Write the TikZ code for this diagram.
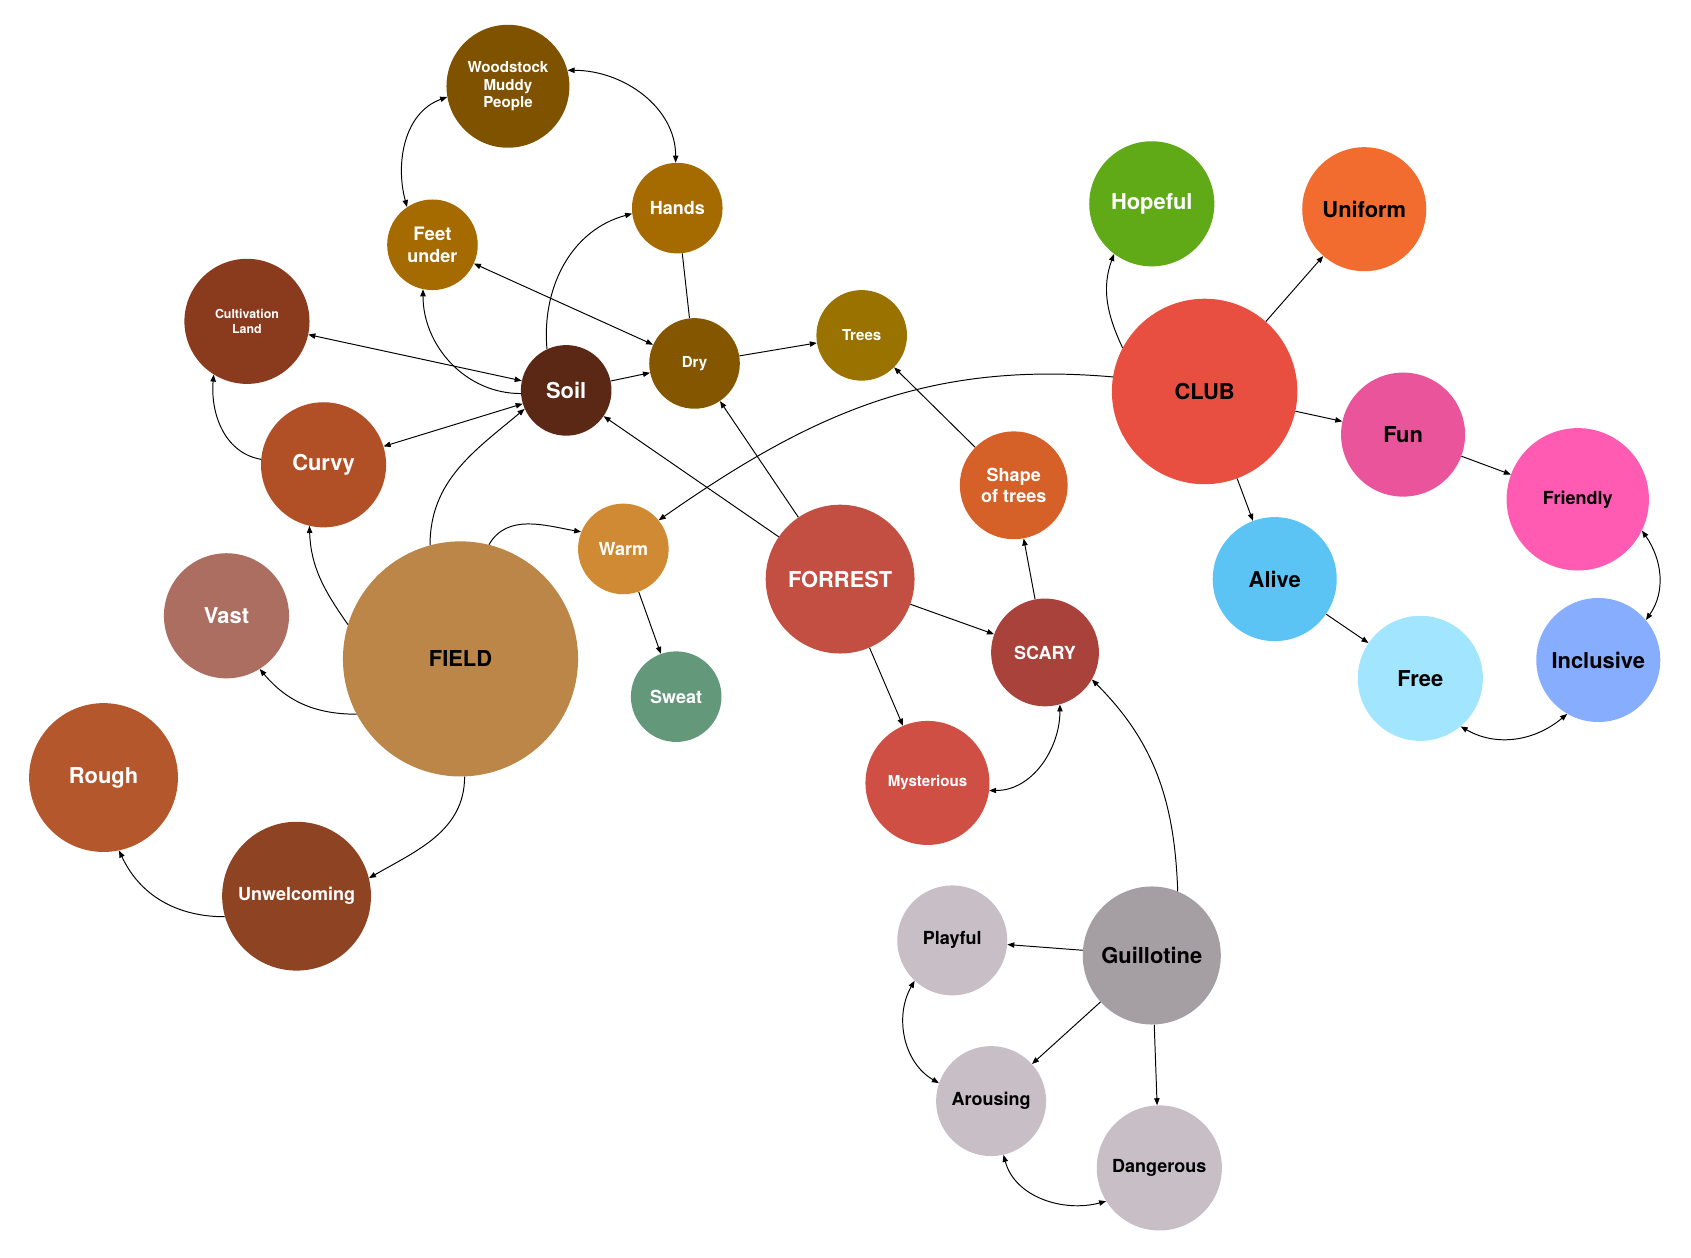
\documentclass[tikz,border=0pt]{standalone}
\usepackage{fontspec}
\setmainfont{TeX Gyre Heros}
\usetikzlibrary{arrows.meta}
\tikzset{
  bub/.style={circle,inner sep=0pt,draw=none,align=center,font=\bfseries},
  fA/.style={font=\bfseries\fontsize{20.3}{23}\selectfont},
  fB/.style={font=\bfseries\fontsize{16.7}{20}\selectfont},
  fC/.style={font=\bfseries\fontsize{14}{16}\selectfont},
  fD/.style={font=\bfseries\fontsize{11.5}{14}\selectfont},
  wt/.style={text=white},
  bk/.style={text=black},
  con/.style={line width=0.9pt,draw=black},
  >={Triangle[length=6.5pt,width=5pt]},
}
\definecolor{cWood}{HTML}{7F5200}
\definecolor{cHands}{HTML}{A66B00}
\definecolor{cFeet}{HTML}{A56A00}
\definecolor{cCult}{HTML}{8A3B1E}
\definecolor{cSoil}{HTML}{5A2815}
\definecolor{cDry}{HTML}{855600}
\definecolor{cTrees}{HTML}{9A7200}
\definecolor{cCurvy}{HTML}{B14F27}
\definecolor{cVast}{HTML}{AD6E62}
\definecolor{cField}{HTML}{BC8649}
\definecolor{cWarm}{HTML}{CF8A33}
\definecolor{cSweat}{HTML}{63987A}
\definecolor{cForrest}{HTML}{C34F42}
\definecolor{cShape}{HTML}{D56128}
\definecolor{cScary}{HTML}{A8423A}
\definecolor{cMyst}{HTML}{D04F44}
\definecolor{cClub}{HTML}{E94F40}
\definecolor{cHope}{HTML}{60A917}
\definecolor{cUni}{HTML}{F36C2F}
\definecolor{cFun}{HTML}{E9549A}
\definecolor{cFriend}{HTML}{FF5BB3}
\definecolor{cAlive}{HTML}{5BC4F5}
\definecolor{cFree}{HTML}{A2E5FF}
\definecolor{cIncl}{HTML}{87ADFF}
\definecolor{cRough}{HTML}{B5572C}
\definecolor{cUnwel}{HTML}{8E4322}
\definecolor{cLight}{HTML}{C8BFC6}
\definecolor{cGuill}{HTML}{A59FA3}
\begin{document}
\begin{tikzpicture}[x=1pt,y=1pt]
\useasboundingbox (0,0) rectangle (1568,1166);
% nodes
\node[bub,fC,wt,fill=cWood,minimum size=114] (wood) at (471,1086) {Woodstock\\Muddy\\People};
\node[bub,fB,wt,fill=cHands,minimum size=84] (hands) at (628,973) {Hands};
\node[bub,fB,wt,fill=cFeet,minimum size=84] (feet) at (401,939) {\fontsize{17.2}{21}\selectfont Feet\\under};
\node[bub,fD,wt,fill=cCult,minimum size=116] (cult) at (229,868) {Cultivation\\Land};
\node[bub,fA,wt,fill=cSoil,minimum size=84] (soil) at (525,804) {Soil};
\node[bub,fC,wt,fill=cDry,minimum size=84] (dry) at (644,829) {Dry};
\node[bub,fC,wt,fill=cTrees,minimum size=84] (trees) at (799,855) {Trees};
\node[bub,fA,wt,fill=cCurvy,minimum size=116] (curvy) at (300,735) {Curvy};
\node[bub,fA,wt,fill=cVast,minimum size=116] (vast) at (210,595) {Vast};
\node[bub,fA,bk,fill=cField,minimum size=218] (field) at (427,555) {FIELD};
\node[bub,fB,wt,fill=cWarm,minimum size=84] (warm) at (578,657) {Warm};
\node[bub,fB,wt,fill=cSweat,minimum size=84] (sweat) at (627,520) {Sweat};
\node[bub,fA,wt,fill=cForrest,minimum size=138] (forrest) at (779,629) {FORREST};
\node[bub,fB,wt,fill=cShape,minimum size=100] (shape) at (940,716) {Shape\\of trees};
\node[bub,fB,wt,fill=cScary,minimum size=100] (scary) at (969,561) {SCARY};
\node[bub,fC,wt,fill=cMyst,minimum size=115] (myst) at (860,440) {Mysterious};
\node[bub,fA,bk,fill=cClub,minimum size=172] (club) at (1117,803) {CLUB};
\node[bub,fA,wt,fill=cHope,minimum size=116] (hope) at (1068,977) {Hopeful};
\node[bub,fA,bk,fill=cUni,minimum size=115] (uni) at (1265,972) {Uniform};
\node[bub,fA,bk,fill=cFun,minimum size=115] (fun) at (1301,763) {Fun};
\node[bub,fB,bk,fill=cFriend,minimum size=132] (friend) at (1463,703) {Friendly};
\node[bub,fA,bk,fill=cAlive,minimum size=115] (alive) at (1182,629) {Alive};
\node[bub,fA,bk,fill=cFree,minimum size=116] (free) at (1317,537) {Free};
\node[bub,fA,bk,fill=cIncl,minimum size=115] (incl) at (1482,554) {Inclusive};
\node[bub,fA,wt,fill=cRough,minimum size=138] (rough) at (96,445) {Rough};
\node[bub,fB,wt,fill=cUnwel,minimum size=138] (unwel) at (275,335) {Unwelcoming};
\node[bub,fB,bk,fill=cLight,minimum size=102] (play) at (883,294) {Playful};
\node[bub,fA,bk,fill=cGuill,minimum size=128] (guill) at (1068,280) {Guillotine};
\node[bub,fB,bk,fill=cLight,minimum size=102] (arous) at (919,145) {Arousing};
\node[bub,fB,bk,fill=cLight,minimum size=116] (dang) at (1075,83) {Dangerous};
% connectors
\draw[con,<->] (feet.124) to[out=105,in=200] (wood.190);
\draw[con,<->] (wood.15) to[out=0,in=90] (hands.92);
\draw[con,->] (soil.115) to[out=95,in=195] (hands.187);
\draw[con] (hands) -- (dry);
\draw[con,<->] (feet) -- (dry);
\draw[con,->] (soil.184) to[out=180,in=270] (feet.258);
\draw[con,<->] (cult) -- (soil);
\draw[con,->] (curvy.175) to[out=170,in=265] (cult.238);
\draw[con,<->] (curvy) -- (soil);
\draw[con,->] (field.105) to[out=90,in=220] (soil.204);
\draw[con,->] (soil) -- (dry);
\draw[con,->] (dry) -- (trees);
\draw[con,->] (forrest) -- (soil);
\draw[con,->] (forrest) -- (dry);
\draw[con,->] (club.171) to[out=175,in=35] (warm.39);
\draw[con,->] (field.76) to[out=60,in=170] (warm.158);
\draw[con,->] (warm) -- (sweat);
\draw[con,->] (field.163) to[out=125,in=272] (curvy.257);
\draw[con,->] (field.208) to[out=180,in=310] (vast.302);
\draw[con,->] (field.272) to[out=270,in=30] (unwel.14);
\draw[con,->] (unwel.196) to[out=180,in=295] (rough.282);
\draw[con,->] (shape) -- (trees);
\draw[con,->] (scary) -- (shape);
\draw[con,->] (forrest) -- (scary);
\draw[con,->] (forrest) -- (myst);
\draw[con,<->] (myst.353) to[out=0,in=270] (scary.286);
\draw[con,->] (guill.68) to[out=92,in=315] (scary.330);
\draw[con,->] (guill) -- (play);
\draw[con,->] (guill) -- (arous);
\draw[con,->] (guill) -- (dang);
\draw[con,<->] (play.227) to[out=240,in=150] (arous.161);
\draw[con,<->] (arous.283) to[out=285,in=195] (dang.212);
\draw[con,->] (club.152) to[out=115,in=250] (hope.233);
\draw[con,->] (club) -- (uni);
\draw[con,->] (club) -- (fun);
\draw[con,->] (fun) -- (friend);
\draw[con,->] (club) -- (alive);
\draw[con,->] (alive) -- (free);
\draw[con,<->] (friend.334) to[out=305,in=55] (incl.40);
\draw[con,<->] (free.310) to[out=330,in=220] (incl.240);
\end{tikzpicture}
\end{document}
